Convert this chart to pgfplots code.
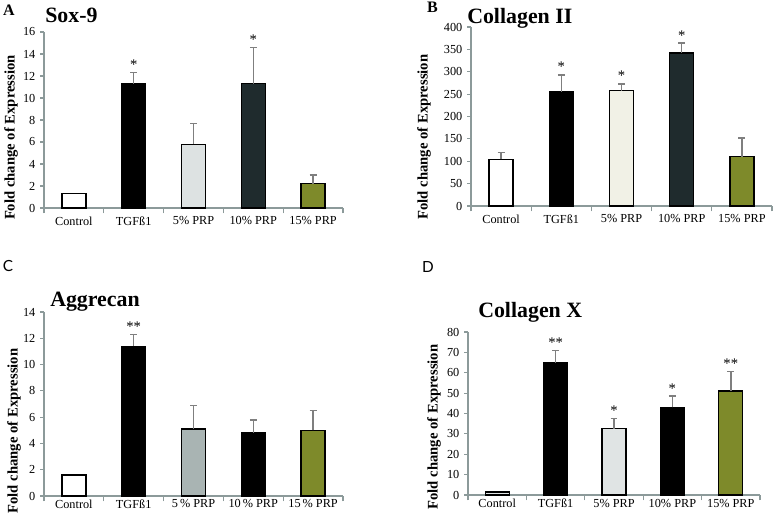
\documentclass[border=0pt]{standalone}
\usepackage{pgfplots}
\pgfplotsset{compat=1.18}
\usepackage{fontspec}
\setmainfont{Liberation Serif}
\newfontfamily\panelsans{Lato}

\definecolor{axgray}{HTML}{8C9A9A}
\definecolor{errgray}{HTML}{7F7F7F}
\definecolor{lightA}{HTML}{DDE2E2}
\definecolor{creamB}{HTML}{F1F1E6}
\definecolor{grayC}{HTML}{A9B4B3}
\definecolor{lightD}{HTML}{E0E4E4}
\definecolor{slate}{HTML}{1F2B2D}
\definecolor{olive}{HTML}{7E8A2A}

\pgfplotsset{
  panel/.style={
    scale only axis, anchor=south west,
    axis x line*=bottom, axis y line*=left,
    axis line style={axgray, line width=1pt},
    xmin=-0.5, xmax=4.5, ymin=0,
    xtick={0,...,4},
    major x tick style={draw=none},
    minor xtick={-0.5,0.5,1.5,2.5,3.5,4.5},
    minor tick length=4pt, major tick length=3pt,
    tick align=outside,
    every tick/.style={axgray, line width=0.8pt},
    ticklabel style={font=\fontsize{9.2}{10}\selectfont},
    /pgf/number format/assume math mode=true,
    ylabel={Fold change of Expression},
    ylabel style={font=\fontsize{11}{12}\selectfont\bfseries, anchor=center},
    ybar,
    clip=false,
  },
  bb/.style={fill=#1, draw=black, line width=1pt, bar width=18pt, bar shift=0pt,
    error bars/.cd, y dir=plus, y explicit, error mark=-,
    error bar style={errgray, line width=1.1pt},
    error mark options={rotate=90, errgray, line width=1.1pt, mark size=2.6pt}},
  stars/.style={sharp plot, draw=none, mark=none, point meta=explicit symbolic,
    nodes near coords, nodes near coords align={vertical},
    every node near coord/.style={font=\fontsize{11}{12}\selectfont, anchor=south, inner sep=2pt}},
}

\begin{document}
\begin{tikzpicture}
\path[use as bounding box] (0,0) rectangle (579.75pt,385.5pt);

% ---------- A: Sox-9
\begin{axis}[panel, at={(33pt,229.5pt)}, width=224.25pt, height=132pt,
  ymax=16, ytick={0,2,...,16},
  xticklabels={Control, TGF\ss 1, 5\% PRP, 10\% PRP, 15\% PRP},
  ylabel style={at={(axis description cs:-0.11,0.40)}}]
\addplot[bb=white] coordinates {(0,1.3)};
\addplot[bb=black] coordinates {(1,11.3) +- (0,1.0)};
\addplot[bb=lightA] coordinates {(2,5.8) +- (0,1.9)};
\addplot[bb=slate] coordinates {(3,11.3) +- (0,3.3)};
\addplot[bb=olive] coordinates {(4,2.2) +- (0,0.8)};
\addplot[stars] coordinates {(1,12.3) [*] (3,14.6) [*]};
\end{axis}

% ---------- B: Collagen II
\begin{axis}[panel, at={(353.25pt,231pt)}, width=225.75pt, height=134.25pt,
  ymax=400, ytick={0,50,...,400},
  xticklabels={Control, TGF\ss 1, 5\% PRP, 10\% PRP, 15\% PRP},
  ylabel style={at={(axis description cs:-0.156,0.385)}}]
\addplot[bb=white] coordinates {(0,104) +- (0,15)};
\addplot[bb=black] coordinates {(1,255) +- (0,38)};
\addplot[bb=creamB] coordinates {(2,258) +- (0,15)};
\addplot[bb=slate] coordinates {(3,342) +- (0,22)};
\addplot[bb=olive] coordinates {(4,110) +- (0,42)};
\addplot[stars] coordinates {(1,293) [*] (2,273) [*] (3,364) [*]};
\end{axis}

% ---------- C: Aggrecan
\begin{axis}[panel, at={(33pt,13.5pt)}, width=224.25pt, height=138pt,
  ymax=14, ytick={0,2,...,14},
  xticklabels={Control, TGF\ss 1, 5\,\% PRP, 10\,\% PRP, 15\,\% PRP},
  xticklabel style={yshift=1.5pt, inner sep=1pt},
  ylabel style={at={(axis description cs:-0.10,0.353)}}]
\addplot[bb=white] coordinates {(0,1.6)};
\addplot[bb=black] coordinates {(1,11.4) +- (0,0.9)};
\addplot[bb=grayC] coordinates {(2,5.1) +- (0,1.8)};
\addplot[bb=black] coordinates {(3,4.8) +- (0,1.0)};
\addplot[bb=olive] coordinates {(4,5.0) +- (0,1.5)};
\addplot[stars] coordinates {(1,12.3) [**]};
\end{axis}

% ---------- D: Collagen X
\begin{axis}[panel, at={(351pt,14.25pt)}, width=219pt, height=122.25pt,
  ymax=80, ytick={0,10,...,80},
  xticklabels={Control, TGF\ss 1, 5\% PRP, 10\% PRP, 15\% PRP},
  xticklabel style={yshift=1pt, inner sep=1pt},
  ylabel style={at={(axis description cs:-0.116,0.417)}}]
\addplot[bb=lightD] coordinates {(0,1.5)};
\addplot[bb=black] coordinates {(1,65) +- (0,6)};
\addplot[bb=lightD] coordinates {(2,32.5) +- (0,5)};
\addplot[bb=black] coordinates {(3,43) +- (0,5.5)};
\addplot[bb=olive] coordinates {(4,51) +- (0,9.5)};
\addplot[stars] coordinates {(1,71) [**] (2,37.5) [*] (3,48.5) [*] (4,60.5) [**]};
\end{axis}

% titles and panel letters
\node[anchor=west, inner sep=0pt, font=\fontsize{16.4}{18}\selectfont\bfseries] at (33.75pt,374.25pt) {Sox-9};
\node[anchor=west, inner sep=0pt, font=\fontsize{16.4}{18}\selectfont\bfseries] at (350.25pt,372pt) {Collagen II};
\node[anchor=west, inner sep=0pt, font=\fontsize{16.4}{18}\selectfont\bfseries] at (37.5pt,159pt) {Aggrecan};
\node[anchor=west, inner sep=0pt, font=\fontsize{16.4}{18}\selectfont\bfseries] at (358.5pt,151.5pt) {Collagen X};
\node[inner sep=0pt, font=\fontsize{12}{13}\selectfont\bfseries] at (6.75pt,378pt) {A};
\node[inner sep=0pt, font=\fontsize{12}{13}\selectfont\bfseries] at (324.4pt,380.25pt) {B};
\node[inner sep=0pt, font=\fontsize{11.5}{12}\selectfont\panelsans] at (6pt,186pt) {C};
\node[inner sep=0pt, font=\fontsize{11.5}{12}\selectfont\panelsans] at (321pt,185.25pt) {D};
\end{tikzpicture}
\end{document}
